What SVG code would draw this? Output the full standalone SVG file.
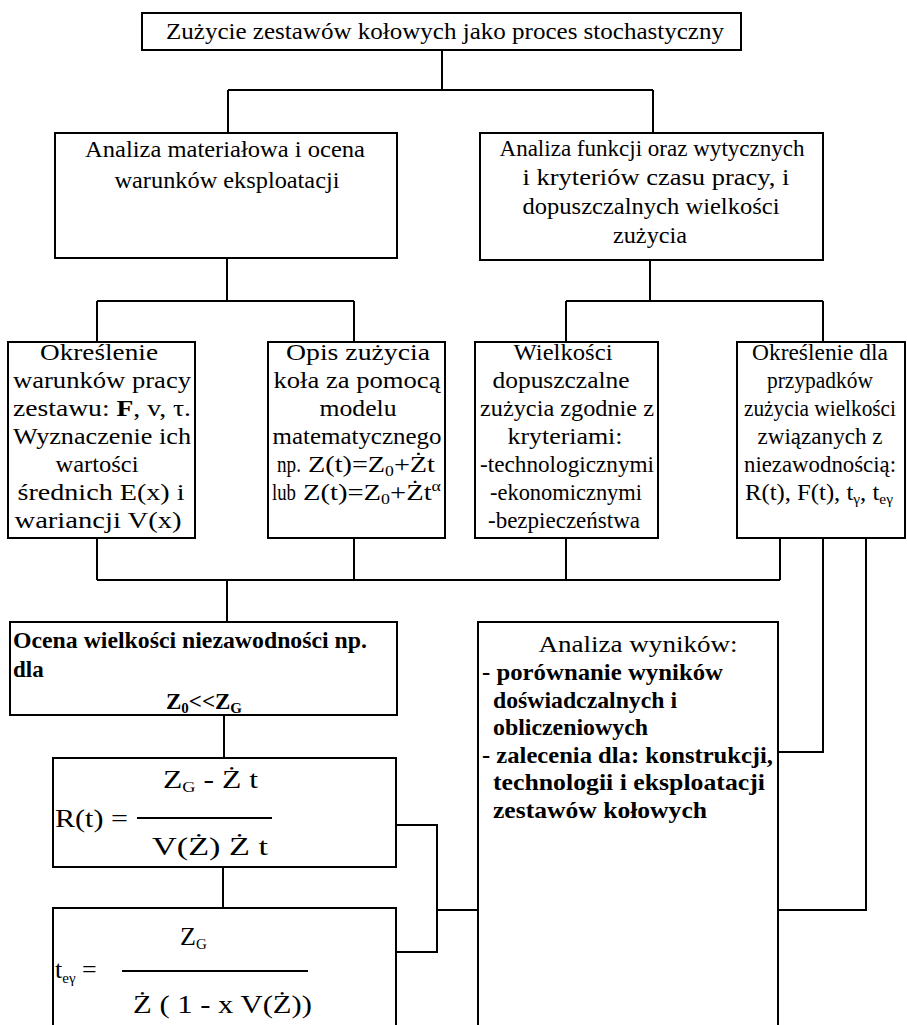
<svg xmlns="http://www.w3.org/2000/svg" width="907" height="1025" viewBox="0 0 907 1025">
<style>
.box{fill:#fff;stroke:#000;stroke-width:2}
.c{fill:none;stroke:#000;stroke-width:2}
text{font-family:"Liberation Serif","Times New Roman","DejaVu Serif",serif;fill:#000;font-size:24px}
.m{text-anchor:middle}
.b{font-weight:bold;font-size:23px}
.f{font-size:26px}
.sub{font-size:15px}
</style>
<rect width="907" height="1025" fill="#fff"/>
<g id="connectors">
<path class="c" d="M442 50V90M228 90H653M228 90V133M653 90V133"/>
<path class="c" d="M227 258V301M97 301H354M97 301V342M354 301V342"/>
<path class="c" d="M650 260V301M566 301H823M566 301V342M823 301V342"/>
<path class="c" d="M97 538V580M354 538V580M566 538V580M780 538V580M97 580H780M227 580V622"/>
<path class="c" d="M224 715V758M223 867V908"/>
<path class="c" d="M396 825H437V952H396M437 910H478"/>
<path class="c" d="M823 538V752H778M866 538V910H778"/>
</g>
<g id="title">
<rect class="box" x="142" y="13" width="599" height="37"/>
<text class="m" x="445" y="39" font-size="23" textLength="558" lengthAdjust="spacingAndGlyphs">Zużycie zestawów kołowych jako proces stochastyczny</text>
</g>
<g id="analiza-materialowa">
<rect class="box" x="55" y="133" width="342" height="125"/>
<text class="m" x="225" y="157" textLength="280" lengthAdjust="spacingAndGlyphs">Analiza materiałowa i ocena</text>
<text class="m" x="227" y="188" textLength="225" lengthAdjust="spacingAndGlyphs">warunków eksploatacji</text>
</g>
<g id="analiza-funkcji">
<rect class="box" x="480" y="133" width="343" height="127"/>
<text class="m" x="652" y="156" textLength="305" lengthAdjust="spacingAndGlyphs">Analiza funkcji oraz wytycznych</text>
<text class="m" x="656" y="185" textLength="267" lengthAdjust="spacingAndGlyphs">i kryteriów czasu pracy, i</text>
<text class="m" x="651" y="214" textLength="257" lengthAdjust="spacingAndGlyphs">dopuszczalnych wielkości</text>
<text class="m" x="650" y="243" textLength="74" lengthAdjust="spacingAndGlyphs">zużycia</text>
</g>
<g id="okreslenie-warunkow">
<rect class="box" x="8" y="342" width="187" height="196"/>
<text class="m" x="99" y="360" textLength="118" lengthAdjust="spacingAndGlyphs">Określenie</text>
<text class="m" x="102" y="388" textLength="178" lengthAdjust="spacingAndGlyphs">warunków pracy</text>
<text class="m" x="102" y="416" textLength="178" lengthAdjust="spacingAndGlyphs">zestawu: <tspan font-weight="bold">F</tspan>, v, τ.</text>
<text class="m" x="102" y="444" textLength="178" lengthAdjust="spacingAndGlyphs">Wyznaczenie ich</text>
<text class="m" x="97" y="472" textLength="83" lengthAdjust="spacingAndGlyphs">wartości</text>
<text class="m" x="101" y="500" textLength="167" lengthAdjust="spacingAndGlyphs">średnich E(x) i</text>
<text class="m" x="98" y="528" textLength="167" lengthAdjust="spacingAndGlyphs">wariancji V(x)</text>
</g>
<g id="opis-zuzycia">
<rect class="box" x="268" y="342" width="177" height="196"/>
<text class="m" x="358" y="360" textLength="144" lengthAdjust="spacingAndGlyphs">Opis zużycia</text>
<text class="m" x="357" y="388" textLength="167" lengthAdjust="spacingAndGlyphs">koła za pomocą</text>
<text class="m" x="358" y="416" textLength="77" lengthAdjust="spacingAndGlyphs">modelu</text>
<text class="m" x="357" y="444" textLength="169" lengthAdjust="spacingAndGlyphs">matematycznego</text>
<text x="277" y="472" textLength="24" lengthAdjust="spacingAndGlyphs">np.</text>
<text x="308" y="472" textLength="127" lengthAdjust="spacingAndGlyphs">Z(t)=Z<tspan class="sub" dy="4">0</tspan><tspan dy="-4">+Żt</tspan></text>
<text x="272" y="500" textLength="24" lengthAdjust="spacingAndGlyphs">lub</text>
<text x="303" y="500" textLength="138" lengthAdjust="spacingAndGlyphs">Z(t)=Z<tspan class="sub" dy="4">0</tspan><tspan dy="-4">+Żt</tspan><tspan class="sub" dy="-9">α</tspan></text>
</g>
<g id="wielkosci-dopuszczalne">
<rect class="box" x="475" y="342" width="183" height="196"/>
<text class="m" x="563" y="360" textLength="99" lengthAdjust="spacingAndGlyphs">Wielkości</text>
<text class="m" x="561" y="388" textLength="137" lengthAdjust="spacingAndGlyphs">dopuszczalne</text>
<text class="m" x="567" y="416" textLength="174" lengthAdjust="spacingAndGlyphs">zużycia zgodnie z</text>
<text class="m" x="565" y="444" textLength="115" lengthAdjust="spacingAndGlyphs">kryteriami:</text>
<text class="m" x="567" y="472" textLength="174" lengthAdjust="spacingAndGlyphs">-technologicznymi</text>
<text class="m" x="566" y="500" textLength="152" lengthAdjust="spacingAndGlyphs">-ekonomicznymi</text>
<text class="m" x="564" y="528" textLength="152" lengthAdjust="spacingAndGlyphs">-bezpieczeństwa</text>
</g>
<g id="okreslenie-niezawodnosc">
<rect class="box" x="737" y="342" width="168" height="196"/>
<text class="m" x="820" y="360" textLength="136" lengthAdjust="spacingAndGlyphs">Określenie dla</text>
<text class="m" x="820" y="388" textLength="106" lengthAdjust="spacingAndGlyphs">przypadków</text>
<text class="m" x="820" y="416" font-size="23" textLength="152" lengthAdjust="spacingAndGlyphs">zużycia wielkości</text>
<text class="m" x="820" y="444" textLength="125" lengthAdjust="spacingAndGlyphs">związanych z</text>
<text class="m" x="820" y="472" textLength="152" lengthAdjust="spacingAndGlyphs">niezawodnością:</text>
<text x="745" y="500" textLength="148" lengthAdjust="spacingAndGlyphs">R(t), F(t), t<tspan class="sub" dy="4">γ</tspan><tspan dy="-4">, t</tspan><tspan class="sub" dy="4">eγ</tspan></text>
</g>
<g id="ocena">
<rect class="box" x="10" y="622" width="387" height="93"/>
<text class="b" x="13" y="648" textLength="354" lengthAdjust="spacingAndGlyphs">Ocena wielkości niezawodności np.</text>
<text class="b" x="13" y="677">dla</text>
<text class="b m" x="204" y="709" font-size="25">Z<tspan class="sub" dy="4">0</tspan><tspan dy="-4">&lt;&lt;Z</tspan><tspan class="sub" dy="4">G</tspan></text>
</g>
<g id="analiza-wynikow">
<rect class="box" x="478" y="622" width="300" height="420"/>
<text class="m" x="638" y="652" textLength="199" lengthAdjust="spacingAndGlyphs">Analiza wyników:</text>
<text class="b" x="482" y="680" textLength="241" lengthAdjust="spacingAndGlyphs">- porównanie wyników</text>
<text class="b" x="493" y="708" textLength="184" lengthAdjust="spacingAndGlyphs">doświadczalnych i</text>
<text class="b" x="493" y="735" textLength="155" lengthAdjust="spacingAndGlyphs">obliczeniowych</text>
<text class="b" x="482" y="763" textLength="291" lengthAdjust="spacingAndGlyphs">- zalecenia dla: konstrukcji,</text>
<text class="b" x="493" y="790" textLength="272" lengthAdjust="spacingAndGlyphs">technologii i eksploatacji</text>
<text class="b" x="493" y="818" textLength="214" lengthAdjust="spacingAndGlyphs">zestawów kołowych</text>
</g>
<g id="wzor-R">
<rect class="box" x="53" y="758" width="343" height="109"/>
<text class="f" x="55" y="827" font-size="27" textLength="73" lengthAdjust="spacingAndGlyphs">R(t) =</text>
<text class="f" x="163" y="788" textLength="95" lengthAdjust="spacingAndGlyphs">Z<tspan class="sub" dy="4">G</tspan><tspan dy="-4"> - Ż  t</tspan></text>
<line class="c" x1="137" y1="818" x2="272" y2="818" stroke-width="1.5"/>
<text class="f" x="152" y="855" textLength="116" lengthAdjust="spacingAndGlyphs">V(Ż)  Ż  t</text>
</g>
<g id="wzor-t">
<rect class="box" x="53" y="908" width="343" height="130"/>
<text class="f" x="180" y="945">Z<tspan class="sub" dy="4">G</tspan></text>
<line class="c" x1="122" y1="971" x2="308" y2="971" stroke-width="1.5"/>
<text class="f" x="55" y="978" font-size="28">t<tspan class="sub" dy="5">eγ</tspan><tspan dy="-5"> =</tspan></text>
<text class="f" x="133" y="1013" textLength="179" lengthAdjust="spacingAndGlyphs">Ż ( 1 - x  V(Ż))</text>
</g>
</svg>
